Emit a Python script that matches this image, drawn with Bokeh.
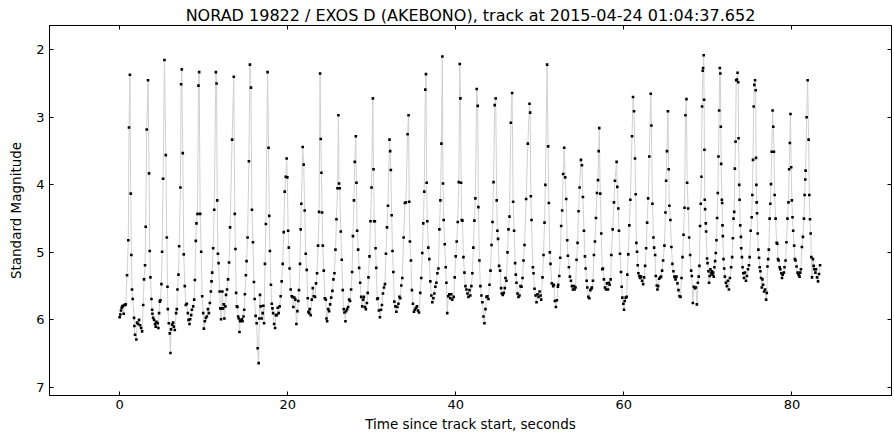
from bokeh.plotting import figure
from bokeh.models import Range1d, LinearAxis, FixedTicker, ColumnDataSource
from bokeh.embed import file_html
from bokeh.resources import INLINE

title_text = "NORAD 19822 / EXOS D (AKEBONO), track at 2015-04-24 01:04:37.652"
x_label = "Time since track start, seconds"
y_label = "Standard Magnitude"
x_ticks = [0, 20, 40, 60, 80]
y_ticks = [2, 3, 4, 5, 6, 7]

# time since track start (s), read cycle by cycle from the picture
time_s = [
    0.00,0.08,0.16,0.24,0.32,0.40,0.48,0.56,0.64,0.72,0.88,1.03,1.11,1.22,1.32,1.39,1.47,1.55,1.71,1.75,1.83,1.99,2.07,2.19,2.31,2.43,2.55,2.67,
    2.80,2.90,3.02,3.10,3.22,3.38,3.50,3.58,3.66,3.78,3.86,3.90,3.98,4.10,4.21,4.29,4.37,4.53,4.61,4.69,
    4.77,4.85,4.97,5.05,5.17,5.33,5.49,5.61,5.69,5.73,5.85,5.96,6.04,6.12,6.24,6.36,6.44,6.56,
    6.72,6.80,6.88,7.00,7.08,7.23,7.31,7.39,7.51,7.63,7.75,7.87,7.99,8.11,8.19,8.31,8.39,8.51,8.59,
    8.75,8.87,8.95,9.06,9.14,9.26,9.38,9.46,9.58,9.70,9.82,9.94,10.02,10.14,10.26,10.38,10.50,10.62,10.73,
    10.85,10.93,11.01,11.13,11.25,11.45,11.53,11.61,11.69,11.77,11.90,11.98,12.06,12.14,12.22,12.30,12.38,12.46,12.58,12.66,
    12.78,12.90,13.02,13.14,13.38,13.58,13.70,13.78,13.86,13.94,14.02,14.10,14.18,14.26,14.34,14.42,14.54,14.62,14.74,14.82,
    14.90,15.02,15.10,15.22,15.38,15.50,15.62,15.74,15.86,15.98,16.06,16.18,16.30,16.42,16.54,16.62,16.70,16.78,16.90,17.02,17.10,17.18,
    17.29,17.40,17.60,17.72,17.80,17.88,18.00,18.10,18.18,18.26,18.38,18.50,18.58,18.70,18.82,18.92,19.04,
    19.16,19.28,19.40,19.52,19.64,19.76,19.87,19.95,20.05,20.13,20.22,20.35,20.47,20.55,20.67,20.79,20.91,21.03,21.15,
    21.26,21.34,21.46,21.54,21.62,21.78,21.90,22.02,22.14,22.26,22.38,22.46,22.54,22.62,22.74,22.86,22.98,23.10,
    23.25,23.37,23.49,23.61,23.73,23.85,23.93,24.01,24.09,24.17,24.29,24.41,24.53,24.61,24.69,24.81,24.93,25.05,25.17,
    25.32,25.44,25.56,25.68,25.80,25.92,26.03,26.11,26.19,26.31,26.43,26.55,26.67,26.75,26.87,26.95,27.07,27.19,27.31,
    27.42,27.54,27.66,27.76,27.88,27.98,28.10,28.18,28.26,28.38,28.50,28.62,28.74,28.86,28.98,29.06,29.18,29.30,29.42,29.52,
    29.61,29.73,29.85,29.97,30.13,30.21,30.29,30.37,30.45,30.53,30.65,30.73,30.85,30.97,31.09,31.21,31.33,
    31.45,31.57,31.69,31.81,31.93,32.11,32.19,32.27,32.37,32.47,32.57,32.69,32.81,32.93,33.05,33.17,33.29,
    33.39,33.51,33.63,33.79,33.94,34.06,34.26,34.38,34.46,34.54,34.66,34.78,34.90,35.02,35.14,35.26,35.38,35.50,35.62,
    35.77,35.89,36.01,36.13,36.25,36.37,36.45,36.53,36.61,36.73,36.85,36.97,37.09,37.21,37.33,37.45,37.57,
    37.69,37.81,37.93,38.05,38.17,38.29,38.40,38.48,38.56,38.68,38.80,38.88,38.98,39.10,39.22,39.34,39.46,39.58,
    39.75,39.87,39.99,40.11,40.23,40.35,40.47,40.55,40.63,40.71,40.79,40.91,41.03,41.15,41.27,41.39,41.51,41.63,
    41.73,41.85,41.97,42.09,42.21,42.33,42.49,42.61,42.69,42.81,42.93,43.05,43.17,43.29,43.41,43.53,43.65,43.77,
    43.89,44.01,44.13,44.25,44.37,44.49,44.63,44.75,44.87,44.95,45.03,45.15,45.27,45.39,45.47,45.59,45.71,45.83,
    45.91,46.03,46.15,46.27,46.39,46.55,46.70,46.82,46.94,47.06,47.14,47.22,47.34,47.46,47.58,47.70,
    47.82,47.94,48.06,48.18,48.37,48.57,48.77,48.85,48.93,49.01,49.17,49.25,49.37,49.49,49.61,49.73,49.85,49.97,50.09,
    50.16,50.32,50.44,50.56,50.66,50.87,50.99,51.07,51.19,51.27,51.43,51.59,51.67,51.79,51.91,52.03,52.15,
    52.19,52.31,52.43,52.54,52.66,52.78,52.90,53.02,53.14,53.26,53.34,53.46,53.58,53.70,53.82,53.94,54.06,
    54.13,54.25,54.37,54.49,54.61,54.73,54.89,55.01,55.13,55.25,55.37,55.45,55.57,55.65,55.77,55.89,56.01,56.13,
    56.20,56.32,56.44,56.56,56.68,56.80,56.92,57.00,57.07,57.19,57.31,57.43,57.51,57.63,57.75,57.87,57.99,58.11,58.21,
    58.31,58.43,58.51,58.67,58.82,58.94,59.14,59.22,59.34,59.42,59.54,59.66,59.74,59.82,59.94,60.02,60.10,60.22,60.34,
    60.41,60.53,60.65,60.77,60.97,61.09,61.21,61.33,61.41,61.49,61.57,61.65,61.73,61.85,61.93,62.05,62.17,62.29,
    62.41,62.53,62.65,62.77,62.89,63.03,63.20,63.28,63.40,63.52,63.60,63.72,63.80,63.92,64.00,64.08,64.20,64.32,
    64.43,64.55,64.67,64.83,64.95,65.03,65.13,65.24,65.34,65.42,65.54,65.66,65.78,65.90,66.02,66.14,66.26,66.38,66.50,66.62,
    66.74,66.86,66.98,67.10,67.22,67.33,67.45,67.53,67.65,67.77,67.89,68.01,68.09,68.21,68.33,68.45,68.57,68.69,68.81,
    68.91,68.99,69.07,69.15,69.23,69.31,69.39,69.43,69.50,69.55,69.59,69.63,69.67,69.75,69.79,69.90,69.96,70.06,70.14,70.22,70.30,70.38,70.46,70.54,70.62,70.70,70.78,
    70.86,70.94,71.02,71.10,71.18,71.26,71.34,71.42,71.48,71.54,71.58,71.66,71.70,71.74,71.78,71.86,71.94,72.02,72.14,72.26,72.38,72.50,72.62,
    72.77,72.89,72.97,73.05,73.13,73.21,73.29,73.37,73.45,73.53,73.61,73.65,73.73,73.77,73.85,73.93,73.97,74.05,74.13,74.21,74.29,74.41,74.53,74.65,
    74.77,74.89,74.97,75.09,75.21,75.29,75.37,75.45,75.53,75.61,75.69,75.73,75.77,75.81,75.85,75.93,76.01,76.09,76.17,76.25,76.33,76.41,76.49,76.57,76.69,76.81,76.93,77.01,
    77.09,77.17,77.25,77.35,77.43,77.51,77.59,77.70,77.78,77.86,77.94,78.06,78.18,78.26,78.34,78.42,78.54,78.62,78.74,78.82,78.90,
    79.04,79.12,79.24,79.35,79.47,79.59,79.67,79.75,79.83,79.91,79.99,80.07,80.15,80.27,80.35,80.43,80.55,80.67,80.79,80.91,
    80.99,81.07,81.19,81.31,81.43,81.51,81.59,81.63,81.75,81.87,81.99,82.07,82.15,82.23,82.31,82.39,82.51,82.59,82.67,82.79,82.87,82.99,83.11,83.23,83.35,
]

# standard magnitude, same order as time_s
magnitude = [
    5.96,5.92,5.86,5.82,5.80,5.79,5.91,5.78,5.78,5.77,5.34,4.82,3.15,2.37,4.13,5.04,5.55,5.69,5.97,6.09,6.22,6.29,6.04,6.06,6.00,6.08,6.12,6.17,
    5.78,5.40,5.19,4.62,3.18,2.45,3.83,4.98,5.37,5.69,5.85,5.91,5.97,6.00,6.06,6.10,6.03,6.05,6.12,5.90,
    5.73,5.71,5.47,4.99,3.91,2.15,3.56,4.78,5.51,5.84,6.05,6.20,6.49,6.14,6.07,6.04,6.10,6.15,
    5.90,5.84,5.55,5.33,4.91,4.04,2.51,2.29,3.53,5.03,5.50,5.78,5.76,5.90,6.00,6.06,5.99,5.93,5.85,
    5.80,5.70,5.41,4.83,4.57,4.43,2.53,2.33,4.43,4.99,5.65,5.90,6.13,6.02,5.97,5.95,5.84,5.90,5.75,
    5.58,5.43,5.30,4.94,4.37,2.33,2.50,4.23,5.02,5.16,5.58,5.83,5.99,5.83,5.58,5.83,5.77,5.98,5.80,5.63,
    5.55,5.40,5.15,4.63,3.33,2.40,4.43,4.95,5.60,5.80,5.81,5.95,5.98,6.18,6.02,6.01,5.99,6.02,5.95,5.85,
    5.62,5.34,5.13,4.78,3.65,2.22,2.56,4.37,4.85,5.44,5.69,5.94,6.05,6.42,6.64,5.98,5.63,5.80,5.98,5.90,5.79,6.05,
    5.17,4.58,2.33,3.45,4.46,4.98,5.48,5.76,5.83,5.90,6.06,6.12,5.93,5.93,5.82,5.90,5.80,
    5.65,5.43,5.17,4.70,4.10,3.88,3.61,3.89,4.68,4.93,5.24,5.55,5.65,5.66,5.81,5.67,5.70,6.06,5.87,
    5.72,5.56,5.17,4.66,4.28,3.44,3.70,4.38,5.02,5.26,5.68,5.88,5.90,5.84,5.93,5.70,5.53,5.65,
    5.66,5.46,5.31,4.90,4.40,2.35,3.32,3.82,4.41,4.90,5.27,5.68,5.70,5.98,6.02,5.84,5.87,5.77,5.67,
    5.57,5.40,5.31,4.96,4.51,4.05,2.97,3.98,4.05,4.69,5.11,5.56,5.84,5.89,6.02,5.87,5.84,5.81,5.70,
    5.72,5.55,5.29,4.76,4.23,3.66,3.28,3.97,4.68,4.96,5.23,5.45,5.66,5.80,5.70,5.66,5.81,5.84,5.75,5.60,
    5.37,5.06,4.54,4.04,2.72,3.77,4.54,4.54,4.94,5.23,5.69,5.68,5.86,5.96,5.85,5.78,5.61,
    5.52,5.47,5.02,4.63,4.31,3.33,3.50,3.78,4.45,4.98,5.29,5.73,5.80,5.88,5.81,5.76,5.66,
    5.68,5.49,5.38,4.78,4.27,4.26,3.25,2.97,4.25,4.84,5.12,5.56,5.76,5.88,5.85,5.82,5.80,5.86,5.89,
    5.60,5.38,5.01,4.57,4.10,2.59,2.36,3.97,4.54,4.93,5.10,5.43,5.64,5.74,5.68,5.61,5.51,
    5.45,5.31,5.24,4.66,4.23,3.39,2.10,3.98,4.52,4.88,5.22,5.45,5.90,5.65,5.62,5.68,5.62,5.70,
    5.66,5.37,5.06,4.84,4.55,3.96,2.21,2.72,3.97,4.52,4.53,5.07,5.30,5.50,5.55,5.61,5.66,5.56,
    5.64,5.50,5.31,4.93,4.53,4.20,2.58,2.83,4.33,5.12,5.50,5.64,5.74,5.95,6.05,5.84,5.66,5.65,
    5.69,5.48,5.27,4.89,4.55,3.96,2.82,2.72,4.23,4.68,4.80,5.20,5.27,5.53,5.61,5.63,5.60,5.53,
    5.38,5.42,5.00,4.66,4.47,3.08,2.64,4.25,4.68,5.16,5.33,5.45,5.61,5.66,5.64,5.50,
    5.51,5.38,5.12,4.89,4.21,3.39,2.80,2.93,4.17,4.52,5.22,5.31,5.54,5.64,5.74,5.62,5.66,5.58,5.64,
    5.70,5.37,5.04,4.56,4.00,2.22,3.43,4.27,5.00,5.17,5.46,5.50,5.48,5.72,5.81,5.71,5.51,
    5.48,5.35,5.08,4.61,4.38,3.84,3.45,3.89,4.21,4.82,5.05,5.22,5.36,5.42,5.50,5.55,5.50,
    5.55,5.52,5.11,4.86,4.39,4.04,3.63,3.71,4.18,4.68,5.06,5.24,5.42,5.52,5.66,5.68,5.56,5.54,
    5.52,5.42,5.04,4.84,4.49,4.12,3.93,3.50,3.16,4.13,4.72,5.25,5.24,5.40,5.52,5.55,5.46,5.55,5.45,
    5.48,5.40,5.04,4.66,4.26,3.94,3.66,4.03,4.35,4.68,5.02,5.29,5.51,5.67,5.76,5.85,5.72,5.67,5.66,
    5.33,5.03,4.60,4.22,3.28,2.70,2.91,3.61,4.14,4.86,4.99,5.19,5.31,5.35,5.38,5.36,5.42,5.47,
    5.37,5.20,4.94,4.56,4.20,3.58,2.65,3.12,4.28,4.78,4.93,5.04,5.35,5.49,5.55,5.50,5.39,5.37,
    5.36,5.27,5.12,4.90,4.41,3.94,3.50,2.91,3.77,4.31,4.52,4.92,5.17,5.28,5.36,5.40,5.36,5.46,5.56,5.65,
    5.66,5.38,5.07,4.74,4.34,2.97,2.73,3.97,4.35,4.78,5.04,5.27,5.35,5.75,5.51,5.53,5.52,5.77,5.45,
    5.36,5.20,4.61,4.28,3.88,2.84,2.31,2.27,2.08,2.74,3.48,4.22,4.36,4.57,4.69,5.09,5.16,5.28,5.45,5.35,5.25,5.31,5.28,5.33,5.30,5.36,5.22,
    5.13,5.01,4.82,4.49,4.12,3.58,2.90,2.27,2.35,3.14,3.69,4.22,4.27,4.60,4.76,5.10,5.24,5.36,5.45,5.50,5.42,5.55,5.38,
    5.22,5.07,4.79,4.50,4.40,3.76,3.36,2.45,2.44,2.34,2.48,3.31,4.00,4.22,4.60,4.77,4.94,5.07,5.22,5.31,5.38,5.30,5.42,5.35,
    5.25,5.19,5.07,4.68,4.48,4.15,3.63,2.84,2.52,2.45,2.60,3.60,4.00,4.26,4.42,4.72,4.96,5.08,5.22,5.28,5.38,5.52,5.40,5.48,5.58,5.55,5.70,5.60,
    5.21,5.10,4.96,4.50,4.28,3.99,3.51,2.90,3.14,3.51,4.15,4.50,4.86,4.87,5.10,5.12,5.22,5.25,5.31,5.38,5.33,
    5.30,5.22,5.12,4.85,4.50,4.26,3.77,3.38,2.95,3.74,4.23,4.48,4.68,4.90,5.10,5.12,5.21,5.30,5.33,5.36,
    5.30,5.25,4.92,4.77,4.50,4.15,3.92,3.79,3.00,2.45,3.33,4.15,4.51,4.72,5.07,5.37,5.10,5.20,5.25,5.30,5.25,5.37,5.43,5.32,5.19,
]

n = min(len(time_s), len(magnitude))
src = ColumnDataSource(data=dict(t=time_s[:n], m=magnitude[:n]))

FONT = "DejaVu Sans"

p = figure(width=894, height=434,
           x_range=Range1d(-8.35, 91.85), y_range=Range1d(7.12, 1.64),
           output_backend="svg", toolbar_location=None,
           min_border_left=49, min_border_right=3,
           min_border_top=25, min_border_bottom=38,
           background_fill_color="white", border_fill_color="white")

p.title.text = title_text
p.title.align = "center"
p.title.text_font = FONT
p.title.text_font_size = "16px"
p.title.text_font_style = "normal"
p.title.text_color = "black"
p.title.standoff = 2

p.grid.visible = False
p.outline_line_color = "black"
p.outline_line_width = 1

p.line("t", "m", source=src, line_color="#d0d0d0", line_width=1)
p.scatter("t", "m", source=src, marker="square", size=2.6,
          fill_color="black", line_color=None)

def style_axis(ax):
    ax.major_tick_in = 4
    ax.major_tick_out = 0
    ax.minor_tick_line_color = None
    ax.axis_line_color = "black"
    ax.major_tick_line_color = "black"
    ax.major_label_text_font = FONT
    ax.major_label_text_font_size = "13px"
    ax.major_label_text_color = "black"
    ax.axis_label_text_font = FONT
    ax.axis_label_text_font_size = "13.5px"
    ax.axis_label_text_font_style = "normal"
    ax.axis_label_text_color = "black"

xa = p.xaxis[0]
xa.ticker = FixedTicker(ticks=x_ticks)
xa.axis_label = x_label
style_axis(xa)
xa.major_label_standoff = 4
xa.axis_label_standoff = 4

ya = p.yaxis[0]
ya.ticker = FixedTicker(ticks=y_ticks)
ya.axis_label = y_label
style_axis(ya)
ya.major_label_standoff = 5
ya.axis_label_standoff = 9

# mirrored tick marks on the top and right spines (no labels)
top_ax = LinearAxis(ticker=FixedTicker(ticks=x_ticks), major_label_overrides={})
style_axis(top_ax)
top_ax.major_label_text_font_size = "1px"
top_ax.major_label_text_color = None
top_ax.major_label_standoff = 0
p.add_layout(top_ax, "above")

right_ax = LinearAxis(ticker=FixedTicker(ticks=y_ticks))
style_axis(right_ax)
right_ax.major_label_text_font_size = "1px"
right_ax.major_label_text_color = None
right_ax.major_label_standoff = 0
p.add_layout(right_ax, "right")

open("out.html", "w").write(file_html(p, INLINE))
